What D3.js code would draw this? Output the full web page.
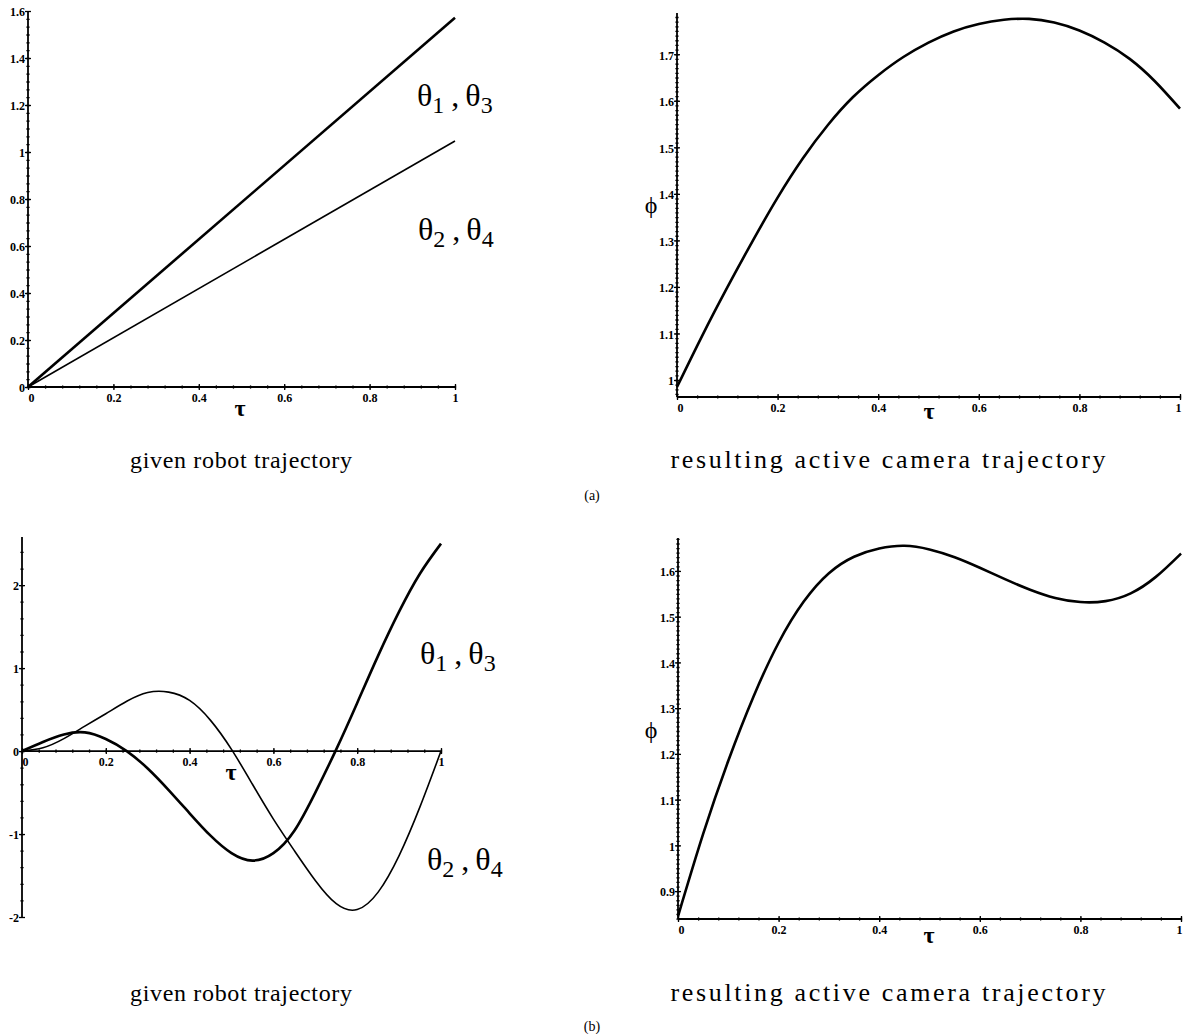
<!DOCTYPE html>
<html>
<head>
<meta charset="utf-8">
<script src="https://cdn.jsdelivr.net/npm/d3@7"></script>
<style>
  body { margin: 0; background: #fff; }
  svg text { font-family: "Liberation Serif", "Times New Roman", serif; fill: #000; }
</style>
</head>
<body>
<script>
// ---- data ----
// (a) straight-line robot joint trajectory
const tauLine = [0, 1];
const theta13A = [0, 1.571];
const theta24A = [0, 1.047];

// sampled parameter tau for the curved trajectories
const tau = [0, 0.05, 0.1, 0.15, 0.2, 0.25, 0.3, 0.35, 0.4, 0.45, 0.5,
             0.55, 0.6, 0.65, 0.7, 0.75, 0.8, 0.85, 0.9, 0.95, 1];

// (a) resulting camera angle phi
const phiA = [0.985, 1.095, 1.199, 1.298, 1.392, 1.476, 1.548, 1.608, 1.655, 1.694, 1.725,
              1.749, 1.765, 1.774, 1.776, 1.768, 1.751, 1.725, 1.69, 1.642, 1.583];

// (b) robot joint trajectories
const theta13B = [0, 0.11, 0.2, 0.225, 0.145, 0, -0.21, -0.47, -0.75, -1.02, -1.23,
                  -1.32, -1.23, -0.96, -0.5, 0.02, 0.58, 1.15, 1.68, 2.14, 2.5];
const theta24B = [0, 0.04, 0.15, 0.3, 0.45, 0.6, 0.705, 0.71, 0.61, 0.37, 0.02,
                  -0.4, -0.82, -1.2, -1.56, -1.84, -1.91, -1.7, -1.26, -0.67, 0];

// (b) resulting camera angle phi
const phiB = [0.845, 1.025, 1.185, 1.325, 1.443, 1.533, 1.595, 1.631, 1.649, 1.655, 1.647,
              1.63, 1.607, 1.582, 1.559, 1.541, 1.532, 1.534, 1.551, 1.587, 1.638];

// tick labels
const xTicks = [0, 0.2, 0.4, 0.6, 0.8, 1];
const yTicksA1 = [0, 0.2, 0.4, 0.6, 0.8, 1, 1.2, 1.4, 1.6];
const yTicksA2 = [1, 1.1, 1.2, 1.3, 1.4, 1.5, 1.6, 1.7];
const yTicksB1 = [-2, -1, 0, 1, 2];
const yTicksB2 = [0.9, 1, 1.1, 1.2, 1.3, 1.4, 1.5, 1.6];

const captions = ['given robot trajectory', 'resulting active camera trajectory'];

const W = 1185, H = 1034;
const svg = d3.select('body').append('svg')
  .attr('width', W).attr('height', H);

// crossing ticks, Maple style: one axis each side of the line
function crossAxis(g, scale, orient, values, size, withLabels) {
  const sides = orient === 'v' ? [d3.axisLeft, d3.axisRight] : [d3.axisBottom, d3.axisTop];
  sides.forEach(function(mk, i) {
    const ax = mk(scale).tickValues(values).tickSizeInner(size).tickSizeOuter(0)
      .tickFormat(d => String(d));
    const sel = g.append('g').call(ax);
    sel.select('.domain').remove();
    sel.selectAll('line').attr('stroke', '#000').attr('stroke-width', 1.3);
    if (!(withLabels && i === 0)) sel.selectAll('text').remove();
  });
}

function panel(o) {
  const x = d3.scaleLinear().domain([0, 1]).range(o.xr);
  const y = d3.scaleLinear().domain(o.yd).range(o.yr);
  const g = svg.append('g');
  const xAxisY = y(o.xAt);

  // x axis
  const gx = g.append('g').attr('transform', `translate(0,${xAxisY})`);
  gx.append('line').attr('x1', x(0)).attr('x2', x(1))
    .attr('stroke', '#000').attr('stroke-width', 1.8);
  crossAxis(gx, x, 'h', d3.range(0, 1.0001, 0.04), 1.6, false);
  crossAxis(gx, x, 'h', xTicks, 3, true);
  gx.selectAll('text')
    .attr('font-size', 12).attr('font-weight', 'bold')
    .attr('y', 6).attr('dy', '0.71em')
    .attr('dx', d => d === 0 ? 3 : (d === 1 && o.lastEnd ? -2 : 0));

  // y axis
  const gy = g.append('g').attr('transform', `translate(${x(0)},0)`);
  gy.append('line').attr('y1', o.yr[0]).attr('y2', o.yr[1])
    .attr('stroke', '#000').attr('stroke-width', 1.8);
  crossAxis(gy, y, 'v', d3.range(o.yd[0] - (o.yd[0] % o.minor), o.yd[1], o.minor)
    .filter(v => v >= o.yd[0] && v <= o.yd[1]), 1.6, false);
  crossAxis(gy, y, 'v', o.yTicks, 3, true);
  gy.selectAll('text')
    .attr('font-size', 12).attr('font-weight', 'bold')
    .attr('x', -3).attr('dy', '0.4em');

  // curves
  const line = d3.line()
    .x(d => x(d[0])).y(d => y(d[1]))
    .curve(d3.curveNatural);
  o.series.forEach(function(s) {
    g.append('path')
      .datum(s.t.map((t, i) => [t, s.v[i]]))
      .attr('d', line)
      .attr('fill', 'none')
      .attr('stroke', '#000')
      .attr('stroke-width', s.w)
      .attr('stroke-linejoin', 'round');
  });

  // tau label
  g.append('text')
    .attr('x', o.tauPos[0]).attr('y', o.tauPos[1])
    .attr('text-anchor', 'middle')
    .attr('font-size', 24).attr('font-weight', 'bold')
    .text('τ');

  if (o.phiPos) {
    g.append('text')
      .attr('x', o.phiPos[0]).attr('y', o.phiPos[1])
      .attr('text-anchor', 'middle')
      .attr('font-size', 24)
      .text('ϕ');
  }

  // theta labels
  if (o.thetaLabels) {
    o.thetaLabels.forEach(function(l) {
      const t = g.append('text').attr('x', l.x).attr('y', l.y).attr('font-size', 32);
      t.append('tspan').text('θ');
      t.append('tspan').attr('font-size', 24).attr('dy', 7).text(l.a);
      t.append('tspan').attr('dy', -7).attr('dx', 7).text(',');
      t.append('tspan').attr('dx', 6).text('θ');
      t.append('tspan').attr('font-size', 24).attr('dy', 7).text(l.b);
    });
  }

  // caption, stretched to the width it takes in the original
  svg.append('text')
    .attr('x', o.capPos[0]).attr('y', o.capPos[1])
    .attr('text-anchor', 'middle')
    .attr('font-size', o.capSize)
    .attr('textLength', o.capLen)
    .attr('lengthAdjust', 'spacing')
    .text(o.caption);
}

// (a) left
panel({
  xr: [28, 455], yd: [0, 1.6], yr: [387, 11], xAt: 0, minor: 0.2 / 6,
  yTicks: yTicksA1,
  series: [{t: tauLine, v: theta13A, w: 2.6}, {t: tauLine, v: theta24A, w: 1.6}],
  tauPos: [240, 416],
  thetaLabels: [{x: 417, y: 106, a: '1', b: '3'}, {x: 418, y: 240, a: '2', b: '4'}],
  caption: captions[0], capPos: [241, 468], capLen: 222, capSize: 24
});

// (a) right
panel({
  xr: [677, 1180], yd: [0.9635, 1.7886], yr: [397, 13], xAt: 0.9635, minor: 0.01,
  yTicks: yTicksA2, lastEnd: true,
  series: [{t: tau, v: phiA, w: 2.6}],
  tauPos: [929, 419],
  phiPos: [651, 213],
  caption: captions[1], capPos: [888, 468], capLen: 435, capSize: 26
});

// (b) left
panel({
  xr: [22, 441], yd: [-2, 2.58], yr: [917, 537], xAt: 0, minor: 0.2,
  yTicks: yTicksB1,
  series: [{t: tau, v: theta13B, w: 2.6}, {t: tau, v: theta24B, w: 1.6}],
  tauPos: [231, 780],
  thetaLabels: [{x: 420, y: 664, a: '1', b: '3'}, {x: 427, y: 870, a: '2', b: '4'}],
  caption: captions[0], capPos: [241, 1001], capLen: 222, capSize: 24
});

// (b) right
panel({
  xr: [678, 1181], yd: [0.839, 1.672], yr: [919, 538], xAt: 0.839, minor: 0.01,
  yTicks: yTicksB2, lastEnd: true,
  series: [{t: tau, v: phiB, w: 2.6}],
  tauPos: [929, 943],
  phiPos: [651, 738],
  caption: captions[1], capPos: [888, 1001], capLen: 435, capSize: 26
});

// sub-figure tags
svg.append('text').attr('x', 592).attr('y', 500).attr('text-anchor', 'middle')
  .attr('font-size', 14).text('(a)');
svg.append('text').attr('x', 592).attr('y', 1031).attr('text-anchor', 'middle')
  .attr('font-size', 14).text('(b)');
</script>
</body>
</html>
